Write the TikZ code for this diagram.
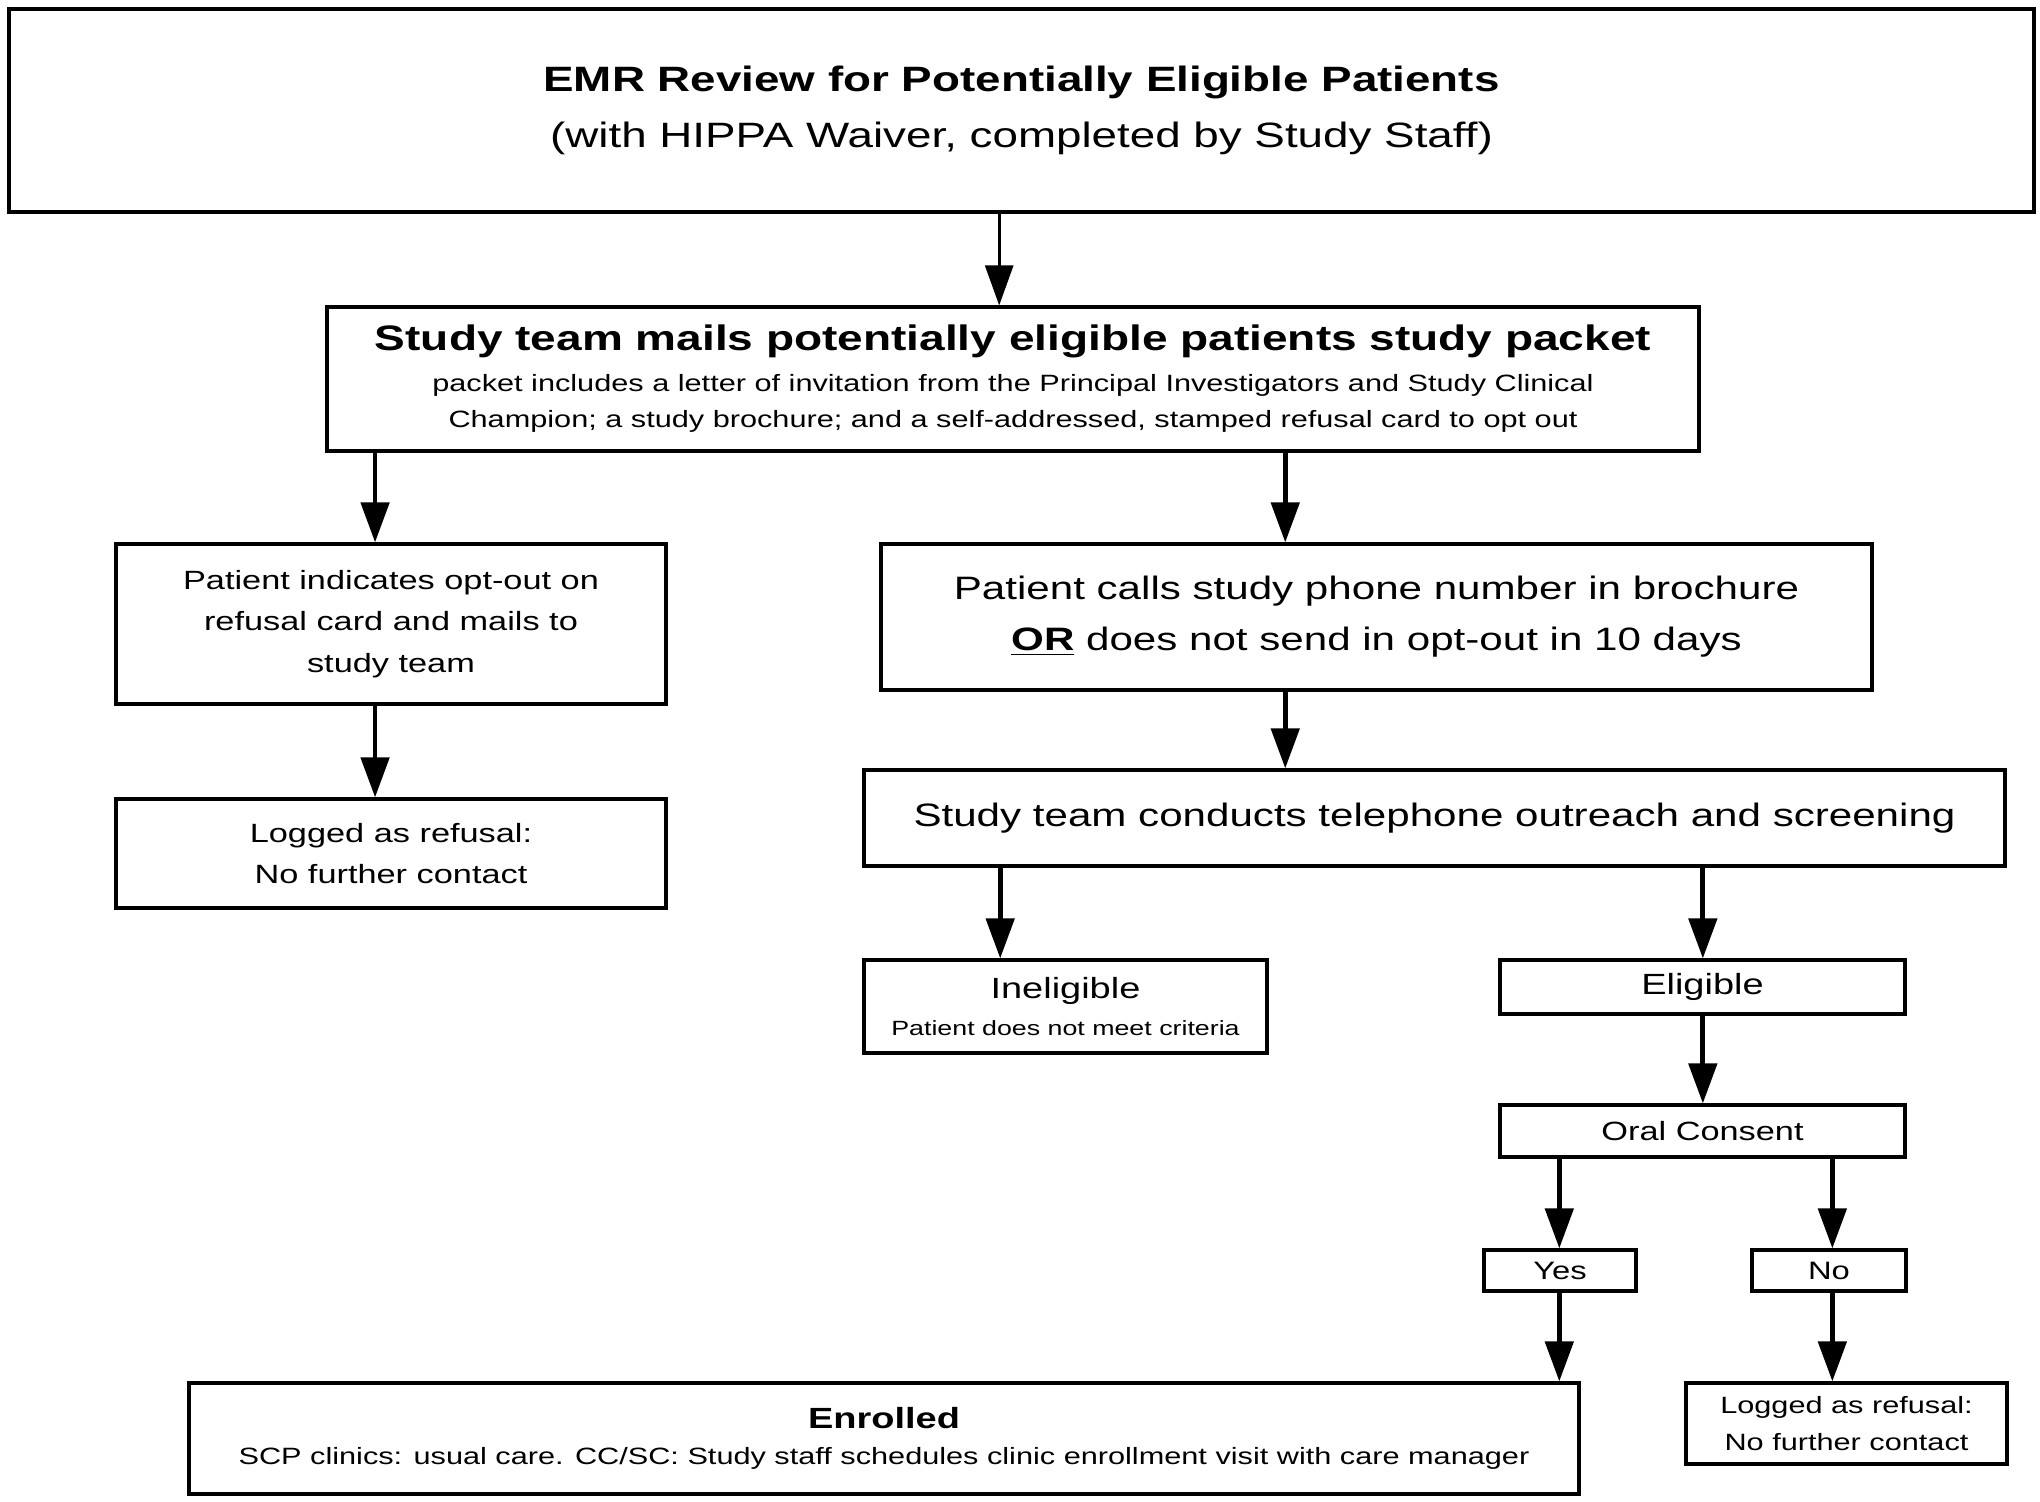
\documentclass[tikz,border=0pt]{standalone}
\usepackage{fontspec}
\setmainfont{Liberation Sans}
\usetikzlibrary{arrows.meta}
\begin{document}
\begin{tikzpicture}[x=0.384615pt, y=-0.5pt, xscale=1.3, transform shape,
  box/.style={draw, line width=1.6pt, align=center, inner sep=0pt},
  sz/.style 2 args={minimum width=#1*0.384615pt, minimum height=#2*0.5pt},
  arr/.style={line width=2.4pt, -{Triangle[length=20pt,width=14pt]}},
  thinarr/.style={line width=1.4pt, -{Triangle[length=20pt,width=14pt]}},
  fBig/.style={font=\fontsize{17.6}{28}\selectfont},
  fMid/.style={font=\fontsize{16.2}{25.4}\selectfont},
  fOpt/.style={font=\fontsize{13.2}{20.8}\selectfont},
  fSmall/.style={font=\fontsize{11.8}{18.2}\selectfont},
  fEl/.style={font=\fontsize{14.6}{18}\selectfont},
  fYN/.style={font=\fontsize{12.6}{16}\selectfont}]
\useasboundingbox (0,0) rectangle (2040,1501);

\node[box, fBig, sz={2025}{203}] (top) at (1021.5,110.5)
  {\textbf{EMR Review for Potentially Eligible Patients}\\(with HIPPA Waiver, completed by Study Staff)};
\node[box, fSmall, sz={1372}{144}] (mails) at (1013,379)
  {{\fontsize{17.7}{21.5}\selectfont\bfseries Study team mails potentially eligible patients study packet}\\[2pt]
   packet includes a letter of invitation from the Principal Investigators and Study Clinical\\
   Champion; a study brochure; and a self-addressed, stamped refusal card to opt out};
\node[box, fOpt, sz={550}{160}] (optout) at (391,624)
  {Patient indicates opt-out on\\refusal card and mails to\\study team};
\node[box, fOpt, sz={550}{109}] (logL) at (391,853.5)
  {Logged as refusal:\\No further contact};
\node[box, fMid, sz={991}{146}] (calls) at (1376.5,617)
  {Patient calls study phone number in brochure\\\underline{\textbf{OR}} does not send in opt-out in 10 days};
\node[box, fMid, sz={1141}{96}] (cond) at (1434.5,818)
  {Study team conducts telephone outreach and screening};
\node[box, fEl, sz={403}{93}] (inel) at (1065.5,1006.5)
  {Ineligible\\{\fontsize{10.3}{12}\selectfont Patient does not meet criteria}};
\node[box, fEl, sz={405}{54}] (elig) at (1702.5,987) {Eligible};
\node[box, fOpt, sz={405}{52}] (oral) at (1702.5,1131) {Oral Consent};
\node[box, fYN, sz={152}{41}] (yes) at (1560,1270.5) {Yes};
\node[box, fYN, sz={154}{41}] (no) at (1829,1270.5) {No};
\node[box, fSmall, sz={1390}{111}] (enr) at (884,1438.5)
  {{\fontsize{14.6}{18}\selectfont\bfseries Enrolled}\\
   SCP clinics: usual care. CC/SC: Study staff schedules clinic enrollment visit with care manager};
\node[box, fSmall, sz={321}{81}] (logR) at (1846.5,1423.5)
  {Logged as refusal:\\No further contact};

\coordinate (xA) at (999,0);
\coordinate (xB) at (375,0);
\coordinate (xC) at (1285,0);
\coordinate (xD) at (1000,0);
\coordinate (xE) at (1702.5,0);
\coordinate (xF) at (1559,0);
\coordinate (xG) at (1832,0);

\draw[thinarr] (top.south -| xA) -- (mails.north -| xA);
\draw[arr] (mails.south -| xB) -- (optout.north -| xB);
\draw[arr] (mails.south -| xC) -- (calls.north -| xC);
\draw[arr] (optout.south -| xB) -- (logL.north -| xB);
\draw[arr] (calls.south -| xC) -- (cond.north -| xC);
\draw[arr] (cond.south -| xD) -- (inel.north -| xD);
\draw[arr] (cond.south -| xE) -- (elig.north -| xE);
\draw[arr] (elig.south -| xE) -- (oral.north -| xE);
\draw[arr] (oral.south -| xF) -- (yes.north -| xF);
\draw[arr] (oral.south -| xG) -- (no.north -| xG);
\draw[arr] (yes.south -| xF) -- (enr.north -| xF);
\draw[arr] (no.south -| xG) -- (logR.north -| xG);
\end{tikzpicture}
\end{document}
